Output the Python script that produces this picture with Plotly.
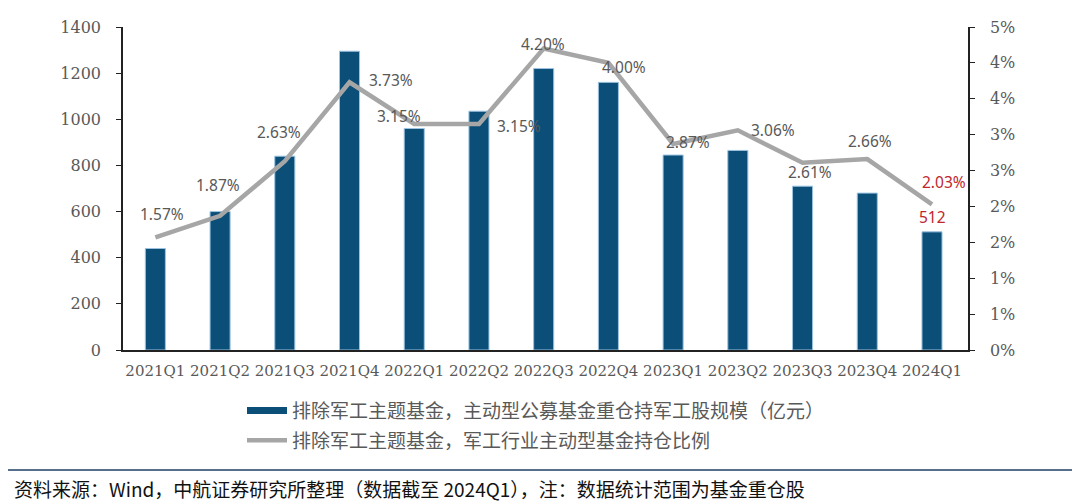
import plotly.graph_objects as go

categories = ["2021Q1", "2021Q2", "2021Q3", "2021Q4", "2022Q1", "2022Q2", "2022Q3",
              "2022Q4", "2023Q1", "2023Q2", "2023Q3", "2023Q4", "2024Q1"]
scale_values = [440, 600, 840, 1295, 960, 1035, 1220, 1160, 845, 865, 710, 680, 512]
ratio_values = [1.57, 1.87, 2.63, 3.73, 3.15, 3.15, 4.20, 4.00, 2.87, 3.06, 2.61, 2.66, 2.03]
left_ticks = [0, 200, 400, 600, 800, 1000, 1200, 1400]
right_tickvals = [0, 0.5, 1.0, 1.5, 2.0, 2.5, 3.0, 3.5, 4.0, 4.5]
right_ticktext = ["0%", "1%", "1%", "2%", "2%", "3%", "3%", "4%", "4%", "5%"]

bar_name = "排除军工主题基金，主动型公募基金重仓持军工股规模（亿元）"
line_name = "排除军工主题基金，军工行业主动型基金持仓比例"
source_text = "资料来源：Wind，中航证券研究所整理（数据截至 2024Q1），注：数据统计范围为基金重仓股"

BAR_COLOR = "#0B4F79"
LINE_COLOR = "#A6A6A6"
TXT_GRAY = "#595959"
TICK_FONT = dict(family="DejaVu Serif", size=16, color=TXT_GRAY)
XTICK_FONT = dict(family="DejaVu Serif", size=15, color=TXT_GRAY)

# page has an 8px body margin: figure is sized/offset to compensate
OFF = 8
PL, PT, PW, PH = 123 - OFF, 27 - OFF, 845, 323

# label offsets (pixels) relative to each line point
label_offsets = [(7, 23), (-2, 31), (-6, 29), (41, 2), (-15, 8), (40, -2), (-1, 5),
                 (16, -4), (15, 2), (35, 0), (7, -9), (3, 18), (12, 22)]

fig = go.Figure()
fig.add_trace(go.Bar(
    x=categories, y=scale_values, name=bar_name,
    marker=dict(color=BAR_COLOR, line=dict(color="#9CC3E0", width=1)),
    showlegend=False, yaxis="y",
))
fig.add_trace(go.Scatter(
    x=categories, y=ratio_values, name=line_name, mode="lines",
    line=dict(color=LINE_COLOR, width=4.5), yaxis="y2",
    showlegend=False,
))
# legend entries
fig.add_trace(go.Scatter(x=[None], y=[None], mode="lines", name=bar_name,
                         line=dict(color=BAR_COLOR, width=7), legendgroup="a"))
fig.add_trace(go.Scatter(x=[None], y=[None], mode="lines", name=line_name,
                         line=dict(color=LINE_COLOR, width=4.5), legendgroup="b"))

annotations = []
for i, (c, v) in enumerate(zip(categories, ratio_values)):
    dx, dy = label_offsets[i]
    last = i == len(categories) - 1
    annotations.append(dict(
        x=c, y=v, xref="x", yref="y2", text=f"{v:.2f}%", showarrow=False,
        xshift=dx, yshift=dy,
        font=dict(family="Noto Sans", size=15.5, color="#C0262D" if last else TXT_GRAY),
    ))
annotations.append(dict(
    x=categories[-1], y=scale_values[-1], xref="x", yref="y", text=str(scale_values[-1]),
    showarrow=False, yshift=15,
    font=dict(family="Noto Sans", size=15.5, color="#C0262D"),
))
annotations.append(dict(
    x=(12 - 123) / PW, y=(350 - 488) / PH, xref="paper", yref="paper",
    xanchor="left", yanchor="middle",
    text=source_text, showarrow=False,
    font=dict(family="Noto Sans CJK SC", size=19, color="#111111"),
))

fig.update_layout(
    width=1080 - OFF, height=504 - OFF,
    margin=dict(l=PL, r=1080 - OFF - PL - PW, t=PT, b=504 - OFF - PT - PH, autoexpand=False),
    paper_bgcolor="white", plot_bgcolor="white",
    bargap=0.69,
    xaxis=dict(
        type="category", tickangle=0, showline=True, linecolor="#222222", linewidth=1.5,
        ticks="", tickfont=XTICK_FONT, showgrid=False, ticklabelstandoff=6,
    ),
    yaxis=dict(
        range=[0, 1400], tickvals=left_ticks, showline=True, linecolor="#222222",
        linewidth=1.5, ticks="outside", ticklen=5, tickcolor="#222222",
        tickfont=TICK_FONT, showgrid=False, zeroline=False, ticklabelstandoff=12,
    ),
    yaxis2=dict(
        range=[0, 4.5], overlaying="y", side="right", tickvals=right_tickvals,
        ticktext=right_ticktext, showline=True, linecolor="#222222", linewidth=1.5,
        ticks="outside", ticklen=5, tickcolor="#222222", tickfont=TICK_FONT,
        showgrid=False, zeroline=False, ticklabelstandoff=12,
    ),
    legend=dict(
        x=(242 - 123) / PW, y=-0.129, xanchor="left", yanchor="top", orientation="v",
        font=dict(family="Noto Sans CJK SC", size=19, color=TXT_GRAY),
        bgcolor="rgba(0,0,0,0)", tracegroupgap=2, itemwidth=40,
    ),
    annotations=annotations,
    shapes=[
        dict(type="line", xref="paper", yref="paper", x0=(6 - 123) / PW, x1=(1072 - 123) / PW,
             y0=1.0 + 22 / PH, y1=1.0 + 22 / PH,
             line=dict(color="#3E6A98", width=2)),
        dict(type="line", xref="paper", yref="paper", x0=(6 - 123) / PW, x1=(1072 - 123) / PW,
             y0=-120 / PH, y1=-120 / PH,
             line=dict(color="#1F3F63", width=1.5)),
    ],
)

fig.write_html("out.html")
